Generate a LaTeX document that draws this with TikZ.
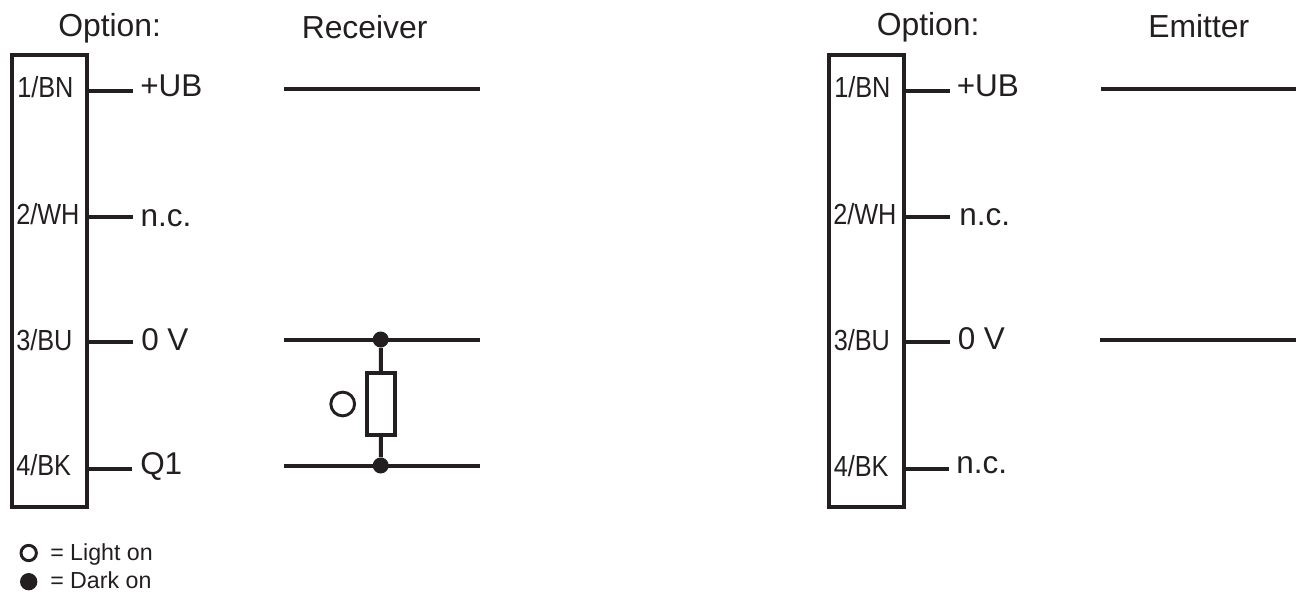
\documentclass[tikz,border=0pt]{standalone}
\usepackage{fontspec}
\setmainfont{Liberation Sans}
\newfontfamily\pinfont[FakeStretch=0.87]{Liberation Sans}
\definecolor{ink}{HTML}{231F20}
\tikzset{
  wire/.style={draw=ink,line width=3pt},
  connbox/.style={draw=ink,line width=3pt,rectangle,inner sep=0pt,minimum width=56.25pt,minimum height=339pt},
  resbox/.style={draw=ink,line width=3pt,fill=white,rectangle,inner sep=0pt,minimum width=20.8pt,minimum height=46pt},
  junction/.style={circle,fill=ink,inner sep=0pt,minimum size=12pt},
  head/.style={anchor=base west,inner sep=0pt,text=ink,font=\fontsize{23.9pt}{27pt}\selectfont},
  pinlabel/.style={anchor=base west,inner sep=0pt,text=ink,font=\pinfont\fontsize{21.8pt}{26pt}\selectfont},
  signal/.style={anchor=base west,inner sep=0pt,text=ink,font=\fontsize{23.6pt}{27pt}\selectfont},
  legendtext/.style={anchor=base west,inner sep=0pt,text=ink,font=\fontsize{17.4pt}{20pt}\selectfont},
}
\begin{document}
\begin{tikzpicture}[x=0.75pt,y=-0.75pt]
\useasboundingbox (0,0) rectangle (1300,592);
% Left: receiver
\node[head] (optL) at (58,36.7) {Option:};
\node[head] (recv) at (301.5,39) {Receiver};
\node[connbox] (boxL) at (49.8,281) {};
\node[pinlabel] (pL1) at (17,98) {1/BN};
\node[pinlabel] (pL2) at (16,224) {2/WH};
\node[pinlabel] (pL3) at (16,350) {3/BU};
\node[pinlabel] (pL4) at (16,475.7) {4/BK};
\coordinate (sL1) at (133,91);
\coordinate (sL2) at (133,216.7);
\coordinate (sL3) at (133,342.3);
\coordinate (sL4) at (132,468.7);
\draw[wire] (boxL.east |- sL1) -- (sL1);
\draw[wire] (boxL.east |- sL2) -- (sL2);
\draw[wire] (boxL.east |- sL3) -- (sL3);
\draw[wire] (boxL.east |- sL4) -- (sL4);
\node[signal] (tL1) at (140,96.7) {+UB};
\node[signal] (tL2) at (140.3,226) {n.c.};
\node[signal] (tL3) at (141,350) {0 V};
\node[signal] (tL4) at (140,474.7) {Q1};
\coordinate (rA1) at (284,89);
\coordinate (rA2) at (479.5,89);
\coordinate (rB1) at (283.5,340);
\coordinate (rB2) at (479.5,340);
\coordinate (rC1) at (284,466);
\coordinate (rC2) at (479.5,466);
\draw[wire] (rA1) -- (rA2);
\draw[wire] (rB1) -- (rB2);
\draw[wire] (rC1) -- (rC2);
\node[junction] (jT) at (380.7,339.5) {};
\node[junction] (jB) at (380.7,465.5) {};
\node[resbox] (res) at (381,404) {};
\draw[wire] (jT) -- (res.north);
\draw[wire] (res.south) -- (jB);
\node[circle,draw=ink,line width=2.2pt,inner sep=0pt,minimum size=17.8pt] (lamp) at (342.7,404) {};
% Legend
\node[circle,draw=ink,line width=2.2pt,inner sep=0pt,minimum size=11.5pt] (legO) at (28.7,553) {};
\node[circle,fill=ink,inner sep=0pt,minimum size=13pt] (legF) at (28.7,581.7) {};
\node[legendtext] (legT1) at (50,560.7) {= Light on};
\node[legendtext] (legT2) at (50,588) {= Dark on};
% Right: emitter
\node[head] (optR) at (876.5,35.7) {Option:};
\node[head] (emit) at (1148,38) {Emitter};
\node[connbox] (boxR) at (866.4,281) {};
\node[pinlabel] (pR1) at (834,98) {1/BN};
\node[pinlabel] (pR2) at (833,224) {2/WH};
\node[pinlabel] (pR3) at (833.5,350) {3/BU};
\node[pinlabel] (pR4) at (833.5,476) {4/BK};
\coordinate (sR1) at (949.7,91);
\coordinate (sR2) at (949.7,216.7);
\coordinate (sR3) at (949.7,342.3);
\coordinate (sR4) at (948.7,468.7);
\draw[wire] (boxR.east |- sR1) -- (sR1);
\draw[wire] (boxR.east |- sR2) -- (sR2);
\draw[wire] (boxR.east |- sR3) -- (sR3);
\draw[wire] (boxR.east |- sR4) -- (sR4);
\node[signal] (tR1) at (956.5,96.7) {+UB};
\node[signal] (tR2) at (959,225) {n.c.};
\node[signal] (tR3) at (957.5,349) {0 V};
\node[signal] (tR4) at (956,473) {n.c.};
\coordinate (eA1) at (1101,89);
\coordinate (eA2) at (1296,89);
\coordinate (eB1) at (1100,340);
\coordinate (eB2) at (1296,340);
\draw[wire] (eA1) -- (eA2);
\draw[wire] (eB1) -- (eB2);
\end{tikzpicture}
\end{document}
